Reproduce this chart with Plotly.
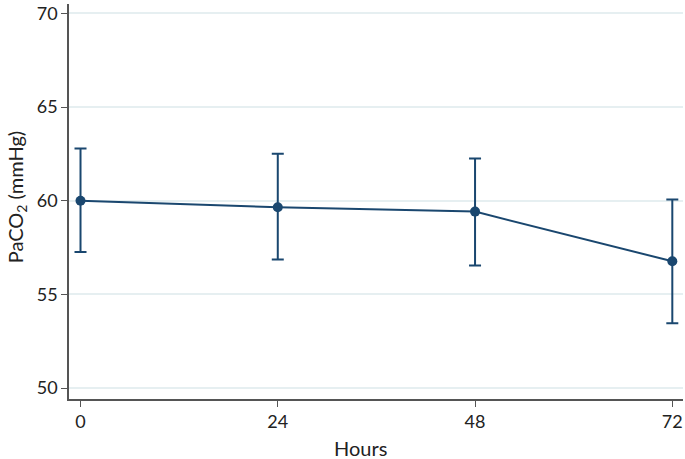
import plotly.graph_objects as go

hours = [0, 24, 48, 72]
mean_paco2 = [60.0, 59.65, 59.42, 56.77]
upper_ci = [62.79, 62.51, 62.26, 60.07]
lower_ci = [57.26, 56.87, 56.54, 53.46]
x_ticks = [0, 24, 48, 72]
y_ticks = [50, 55, 60, 65, 70]
x_title = "Hours"
y_title = "PaCO<sub>2</sub> (mmHg)"

navy = "#1a476f"
err_plus = [u - m for u, m in zip(upper_ci, mean_paco2)]
err_minus = [m - l for m, l in zip(mean_paco2, lower_ci)]

fig = go.Figure()
fig.add_trace(go.Scatter(
    x=hours, y=mean_paco2, mode="lines+markers",
    line=dict(color=navy, width=2),
    marker=dict(color=navy, size=10),
    error_y=dict(type="data", symmetric=False, array=err_plus, arrayminus=err_minus,
                 color=navy, thickness=2, width=6),
    showlegend=False,
))

font = dict(family="Lato, Open Sans, sans-serif", size=18, color="#222")
fig.update_layout(
    width=685, height=459,
    margin=dict(l=69, r=2, t=2, b=60),
    paper_bgcolor="white", plot_bgcolor="white",
    font=font,
    xaxis=dict(range=[-1.4, 73.3], tickvals=x_ticks, showgrid=False, zeroline=False,
               showline=True, linecolor="#555", linewidth=1.5, ticks="outside",
               ticklen=6, tickcolor="#555", tickfont=dict(size=18),
               ticklabeloverflow="allow"),
    yaxis=dict(range=[49.42, 70.5], tickvals=y_ticks, showgrid=True, gridcolor="#e6eff1",
               gridwidth=1.5, zeroline=False, showline=True, linecolor="#555", linewidth=1.5,
               ticks="outside", ticklen=6, tickcolor="#555", tickfont=dict(size=18),
               ticklabeloverflow="allow"),
    annotations=[
        dict(text=x_title, xref="paper", yref="paper", x=0.474, y=-0.156,
             xanchor="center", yanchor="bottom", showarrow=False, font=dict(size=20),
             borderpad=0),
        dict(text=y_title, xref="paper", yref="paper", x=-0.0863, y=0.511,
             xanchor="center", yanchor="middle", textangle=-90, showarrow=False,
             font=dict(size=20)),
    ],
)
fig.write_html("out.html", config={"displayModeBar": False},
               post_script="document.body.style.margin='0';document.body.style.overflow='hidden';")
